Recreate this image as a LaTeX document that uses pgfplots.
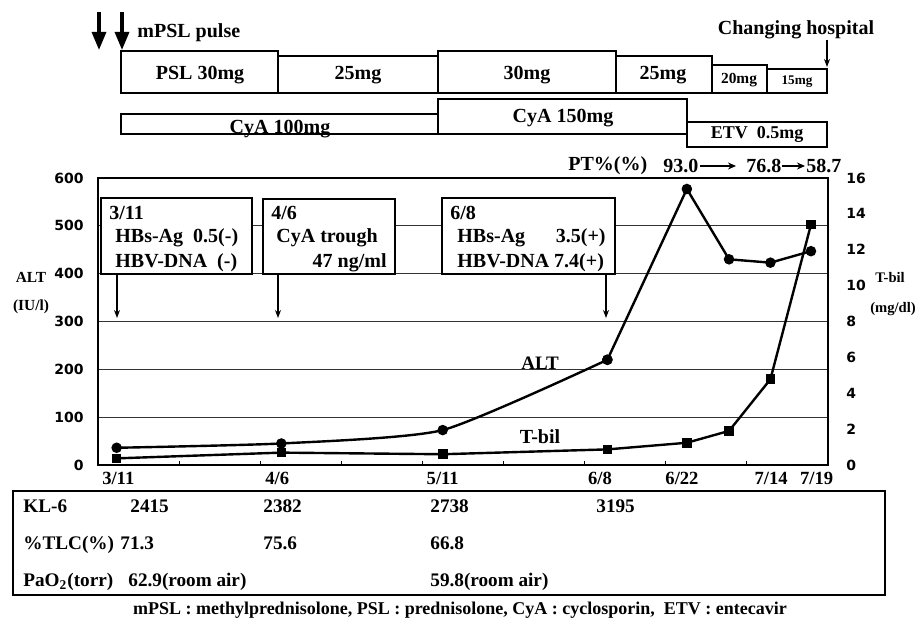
\documentclass[border=0pt]{standalone}
\usepackage{fontspec}
\setmainfont{Liberation Serif}
\newfontfamily\tickfont{DejaVu Sans}
\usepackage{pgfplots}
\pgfplotsset{compat=1.18}
\usetikzlibrary{arrows.meta}
\newcommand\fs[1]{\fontsize{#1}{#1}\selectfont}
\begin{document}
\begin{tikzpicture}[every node/.style={inner sep=0pt, font=\bfseries}]
\useasboundingbox (0,0) rectangle (459.5pt,310pt);
\begin{axis}[at={(49pt,77.5pt)}, anchor=south west, scale only axis, width=365pt, height=143.5pt,
 xmin=0,xmax=9,ymin=0,ymax=600, clip=false,
 axis line style={line width=0.6pt},
 xtick={0,...,9}, xticklabels={}, tick align=inside, major tick length=2pt,
 xtick pos=bottom, ytick pos=left,
 tick style={line width=0.6pt, black},
 extra x ticks={0.25,2.21,4.25,6.19,7.2,8.3,8.86},
 extra x tick labels={3/11,4/6,5/11,6/8,6/22,7/14,7/19},
 extra x tick style={major tick length=0pt},
 xticklabel style={font=\bfseries\fs{9.3}, yshift=-3.5pt},
 ytick={0,100,...,600},
 ymajorgrids, grid style={black!80, line width=0.6pt},
 ytick style={draw=none},
 yticklabel style={font=\tickfont\bfseries\fs{7}, xshift=-7pt},
 /pgf/number format/assume math mode=true,
]
\draw[line width=1.1pt] (axis cs:0,600) -- (axis cs:0,0) -- (axis cs:9,0);
\addplot[black, line width=1.2pt, smooth, tension=0.35, mark=*, mark size=2pt] coordinates {(0.23,36) (2.26,45) (4.25,73) (6.28,220)};
\addplot[black, line width=1.2pt, mark=*, mark size=2pt] coordinates {(6.28,220) (7.26,577) (7.78,430) (8.29,423) (8.79,447)};
\end{axis}
\begin{axis}[at={(49pt,77.5pt)}, anchor=south west, scale only axis, width=365pt, height=143.5pt,
 xmin=0,xmax=9,ymin=0,ymax=16, clip=false,
 axis y line*=right, axis x line=none,
 axis line style={line width=0.6pt},
 ytick={0,2,...,16}, ytick style={draw=none},
 yticklabel style={font=\tickfont\bfseries\fs{7}, xshift=9pt},
 /pgf/number format/assume math mode=true,
]
\addplot[black, line width=1.2pt, mark=square*, mark size=1.8pt] coordinates {(0.23,0.37) (2.26,0.69) (4.25,0.6) (6.28,0.87) (7.26,1.24) (7.78,1.9) (8.29,4.78) (8.79,13.4)};
\end{axis}
\begin{scope}[x=0.5pt,y=-0.5pt,shift={(0pt,310pt)}]
% info boxes
\draw[line width=0.6pt, fill=white] (101,198) rectangle (252,274);
\draw[line width=0.6pt, fill=white] (263,199) rectangle (395,274);
\draw[line width=0.6pt, fill=white] (442,198) rectangle (615,274);
\node[anchor=west, font=\bfseries\fs{10}] at (109,213) {3/11};
\node[anchor=west, font=\bfseries\fs{10}] at (115,238) {HBs-Ag\ \ 0.5(-)};
\node[anchor=west, font=\bfseries\fs{10}] at (115,263) {HBV-DNA\ \ (-)};
\node[anchor=west, font=\bfseries\fs{10}] at (271,213) {4/6};
\node[anchor=west, font=\bfseries\fs{10}] at (276,238) {CyA trough};
\node[anchor=east, font=\bfseries\fs{10}] at (387,263) {47 ng/ml};
\node[anchor=west, font=\bfseries\fs{10}] at (450,213) {6/8};
\node[anchor=west, font=\bfseries\fs{10}] at (457,238) {HBs-Ag};
\node[anchor=east, font=\bfseries\fs{10}] at (606,238) {3.5(+)};
\node[anchor=west, font=\bfseries\fs{10}] at (457,263) {HBV-DNA 7.4(+)};
\foreach \xx in {117,278,606} \draw[line width=0.6pt, -{Stealth[length=4pt,width=3pt]}] (\xx,274) -- (\xx,318);
% curve labels
\node[font=\bfseries\fs{9.5}] at (540,363) {ALT};
\node[font=\bfseries\fs{10}] at (540,437) {T-bil};
% axis labels
\node[font=\bfseries\fs{7.7}] at (31,277) {ALT};
\node[font=\bfseries\fs{7.7}] at (31,307) {(IU/l)};
\node[font=\bfseries\fs{7.3}] at (890,278) {T-bil};
\node[font=\bfseries\fs{7.3}] at (893,309) {(mg/dl)};
% PT line
\node[anchor=west, font=\bfseries\fs{10}] at (568,166) {PT\%(\%)};
\node[anchor=west, font=\bfseries\fs{10}] at (663,166) {93.0};
\draw[line width=0.6pt, -{Stealth[length=4pt,width=3.5pt]}] (700,166) -- (736,166);
\node[anchor=west, font=\bfseries\fs{10}] at (746,166) {76.8};
\draw[line width=0.6pt, -{Stealth[length=4pt,width=3.5pt]}] (782,166) -- (805,166);
\node[anchor=west, font=\bfseries\fs{10}] at (806,166) {58.7};
% top timeline
\draw[line width=1.6pt, -{Triangle[length=9pt,width=7pt]}] (99,12) -- (99,50);
\draw[line width=1.6pt, -{Triangle[length=9pt,width=7pt]}] (122,12) -- (122,50);
\node[anchor=west, font=\bfseries\fs{10}] at (137,33) {mPSL pulse};
\node[font=\bfseries\fs{10}] at (796,30) {Changing hospital};
\draw[line width=0.6pt, -{Stealth[length=4pt,width=3pt]}] (827,40) -- (827,67);
\begin{scope}[line width=0.8pt]
\draw (121,51) rectangle (278,93);
\draw (278,56) rectangle (438,93);
\draw (438,51) rectangle (616,93);
\draw (616,56) rectangle (712,93);
\draw (712,65) rectangle (767,93);
\draw (767,69) rectangle (827,93);
\draw (121,114) rectangle (438,134);
\draw (438,99) rectangle (687,134);
\draw (687,122) rectangle (827,147);
\end{scope}
\node[font=\bfseries\fs{10}] at (200,75) {PSL 30mg};
\node[font=\bfseries\fs{10}] at (358,75) {25mg};
\node[font=\bfseries\fs{10}] at (527,75) {30mg};
\node[font=\bfseries\fs{10}] at (663,75) {25mg};
\node[font=\bfseries\fs{7.7}] at (739,80) {20mg};
\node[font=\bfseries\fs{6.6}] at (797,82) {15mg};
\node[anchor=base, font=\bfseries\fs{10}] at (280,134) {CyA 100mg};
\node[font=\bfseries\fs{10}] at (563,118) {CyA 150mg};
\node[font=\bfseries\fs{9}] at (757,135) {ETV\ \ 0.5mg};
% table
\draw[line width=1.3pt] (13,491) rectangle (885,595);
\begin{scope}[every node/.append style={anchor=base west, font=\bfseries\fs{9.6}}]
\node at (23,513) {KL-6};
\node at (130,513) {2415};
\node at (263,513) {2382};
\node at (430,513) {2738};
\node at (596,513) {3195};
\node at (23,550) {\%TLC(\%)};
\node at (120,550) {71.3};
\node at (263,550) {75.6};
\node at (430,550) {66.8};
\node at (23,587) {PaO\textsubscript{2}(torr)};
\node at (128,587) {62.9(room air)};
\node at (430,587) {59.8(room air)};
\end{scope}
\node[font=\bfseries\fs{9}] at (460,610) {mPSL : methylprednisolone, PSL : prednisolone, CyA : cyclosporin,\ \ ETV : entecavir};
\end{scope}
\end{tikzpicture}
\end{document}
